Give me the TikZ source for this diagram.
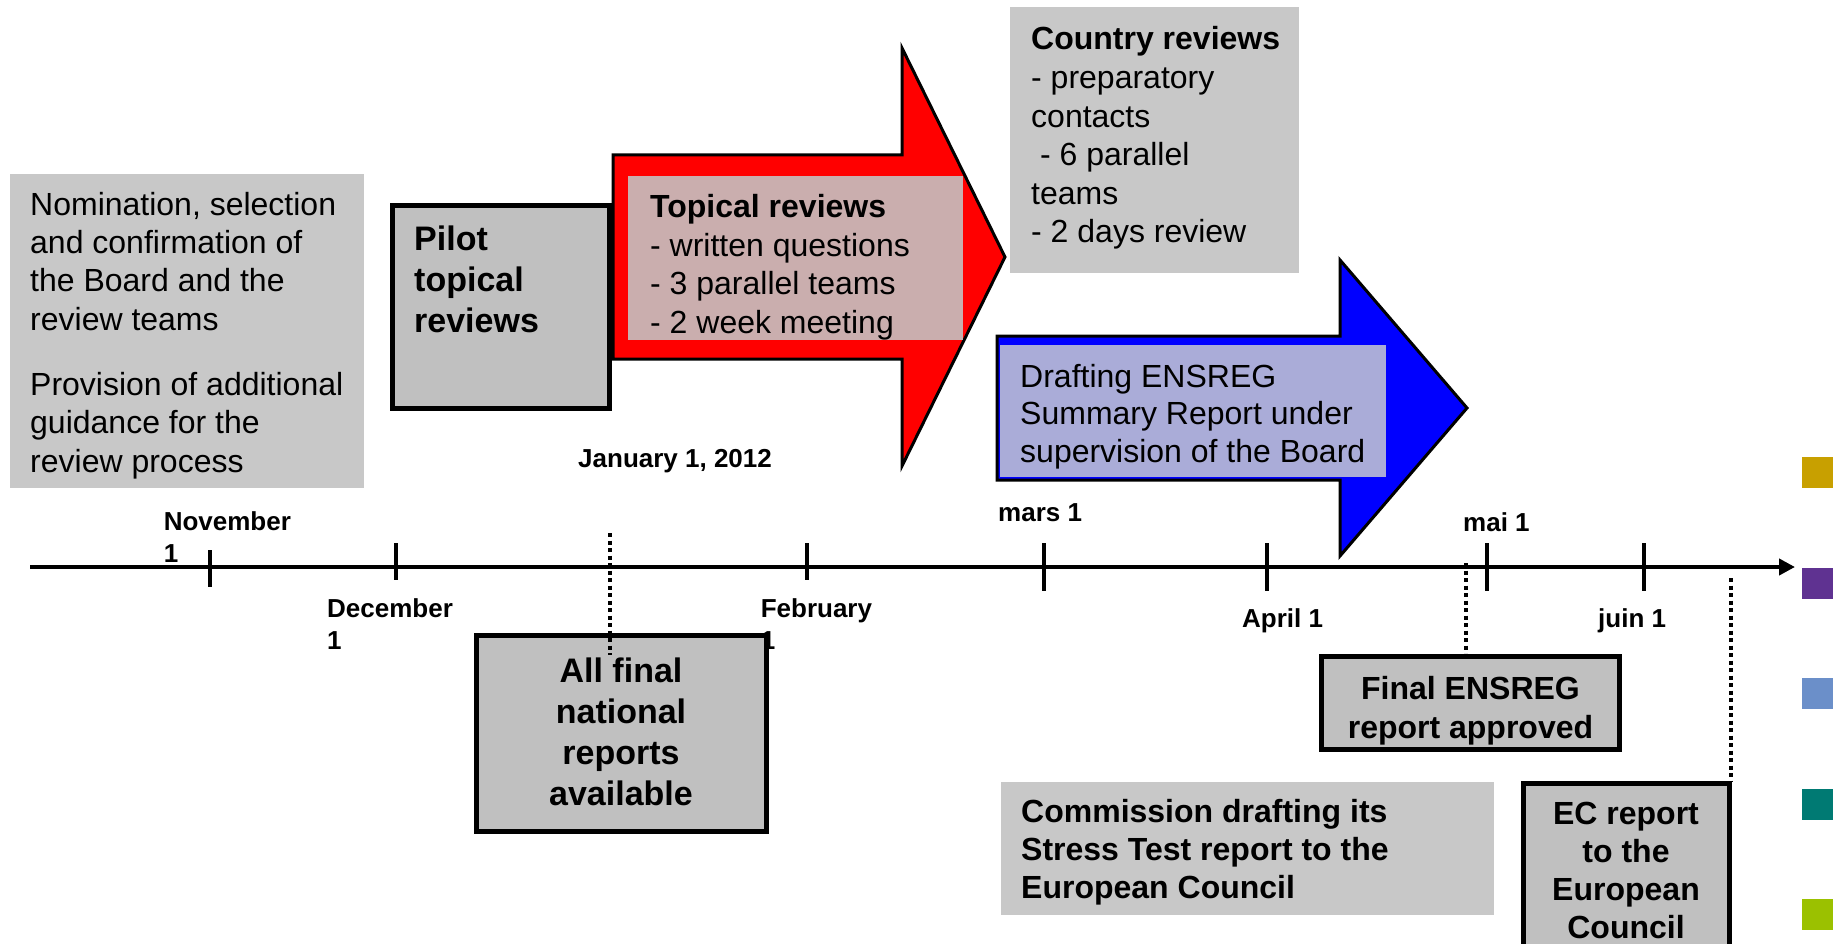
\documentclass[tikz,border=0pt]{standalone}
\usepackage{fontspec}
\setmainfont{Liberation Sans}
\usetikzlibrary{arrows.meta}
\definecolor{boxgray}{RGB}{192,192,192}
\definecolor{lightbox}{RGB}{200,200,200}
\definecolor{pinkgray}{RGB}{202,174,174}
\definecolor{bluegray}{RGB}{170,172,216}
\definecolor{sqgold}{RGB}{200,160,0}
\definecolor{sqpurple}{RGB}{95,50,145}
\definecolor{sqblue}{RGB}{107,143,201}
\definecolor{sqteal}{RGB}{0,122,115}
\definecolor{sqgreen}{RGB}{155,193,0}
\newcommand{\regfont}{\fontsize{32}{38.5}\selectfont}
\newcommand{\bigbold}{\fontsize{34}{41}\selectfont\bfseries}
\newcommand{\monthfont}{\fontsize{26}{32}\selectfont\bfseries}
\tikzset{
  txt/.style={inner sep=0pt, anchor=base west, font=\regfont},
  ctxt/.style={inner sep=0pt, anchor=base, font=\regfont\bfseries},
  month/.style={inner sep=0pt, anchor=base west, font=\monthfont},
  solidbox/.style={draw=black, line width=5pt, fill=boxgray},
  flatbox/.style={fill=lightbox},
  bigarrow/.style={draw=black, line width=3pt, line join=miter},
  tick/.style={line width=4pt},
  dotline/.style={line width=4pt, dash pattern=on 4pt off 3.5pt},
}
\begin{document}
\begin{tikzpicture}[x=1pt,y=-1pt]
\useasboundingbox (0,0) rectangle (1839,944);
\clip (0,0) rectangle (1839,944);
\fill[white] (0,0) rectangle (1839,944);

% left grey block
\fill[lightbox] (10,174) rectangle (364,488);
\node[txt] (nom) at (30,215) {\begin{tabular}[t]{@{}l@{}}Nomination, selection\\and confirmation of\\the Board and the\\review teams\end{tabular}};
\node[txt] (prov) at (30,395) {\begin{tabular}[t]{@{}l@{}}Provision of additional\\guidance for the\\review process\end{tabular}};

% pilot box
\draw[solidbox] (392,205.5) rectangle (609.5,408);
\node[txt, font=\bigbold] (pilot) at (414,251) {\begin{tabular}[t]{@{}l@{}}Pilot\\topical\\reviews\end{tabular}};

% red arrow
\draw[bigarrow, fill=red] (613,155) -- (902,155) -- (902,48) -- (1005,257) -- (902,466) -- (902,359) -- (613,359) -- cycle;
\fill[pinkgray] (628,176) rectangle (963,340);
\node[txt] (topical) at (650,218) {\begin{tabular}[t]{@{}l@{}}\textbf{Topical reviews}\\- written questions\\- 3 parallel teams\\- 2 week meeting\end{tabular}};

% country reviews
\fill[lightbox] (1010,7) rectangle (1299,273);
\node[txt, font=\fontsize{32}{38.6}\selectfont] (country) at (1031,50) {\begin{tabular}[t]{@{}l@{}}\textbf{Country reviews}\\- preparatory\\contacts\\\ - 6 parallel\\teams\\- 2 days review\end{tabular}};

% blue arrow
\draw[bigarrow, fill=blue] (997,336) -- (1340,336) -- (1340,260) -- (1467,408) -- (1340,556) -- (1340,480) -- (997,480) -- cycle;
\fill[bluegray] (1000,345) rectangle (1386,477);
\node[txt, font=\fontsize{32}{37.5}\selectfont] (drafting) at (1020,387) {\begin{tabular}[t]{@{}l@{}}Drafting ENSREG\\Summary Report under\\supervision of the Board\end{tabular}};

% timeline
\coordinate (tlstart) at (30,567);
\coordinate (tlend) at (1795,567);
\draw[line width=4pt, -{Triangle[length=16pt,width=16pt]}] (tlstart) -- (tlend);
\draw[tick] (209.5,550) -- (209.5,587);
\draw[tick] (395.5,543) -- (395.5,580);
\draw[tick] (807,543) -- (807,580);
\draw[tick] (1044,543) -- (1044,591);
\draw[tick] (1266.5,543) -- (1266.5,591);
\draw[tick] (1487,543) -- (1487,591);
\draw[tick] (1643.5,543) -- (1643.5,591);

% month labels
\node[month] (nov) at (163.6,530) {\begin{tabular}[t]{@{}l@{}}November\\1\end{tabular}};
\node[month] (dec) at (327,617) {\begin{tabular}[t]{@{}l@{}}December\\1\end{tabular}};
\node[month] (feb) at (760.6,617) {\begin{tabular}[t]{@{}l@{}}February\\1\end{tabular}};
\node[month] (jan) at (578,467) {January 1, 2012};
\node[month] (mar) at (998,521) {mars 1};
\node[month] (apr) at (1242,627) {April 1};
\node[month] (mai) at (1463,531) {mai 1};
\node[month] (juin) at (1598,627) {juin 1};

% all final box
\draw[solidbox] (476,635.5) rectangle (766.5,831.5);
\node[ctxt, font=\bigbold] (allfinal) at (621,682) {\begin{tabular}[t]{@{}c@{}}All final\\national\\reports\\available\end{tabular}};

% final ENSREG box
\draw[solidbox] (1321.5,656.5) rectangle (1619.5,749.5);
\node[ctxt, font=\fontsize{32}{39}\selectfont\bfseries] (final) at (1470.5,699) {\begin{tabular}[t]{@{}c@{}}Final ENSREG\\report approved\end{tabular}};

% commission box
\fill[lightbox] (1001,782) rectangle (1494,915);
\node[txt, font=\fontsize{32}{38}\selectfont\bfseries] (comm) at (1021,822) {\begin{tabular}[t]{@{}l@{}}Commission drafting its\\Stress Test report to the\\European Council\end{tabular}};

% EC box
\draw[solidbox] (1523.5,783.5) rectangle (1729.5,975);
\node[ctxt, font=\fontsize{32}{38}\selectfont\bfseries] (ec) at (1626,824) {\begin{tabular}[t]{@{}c@{}}EC report\\to the\\European\\Council\end{tabular}};

% dotted markers
\coordinate (jantop) at (610,533);
\coordinate (janbot) at (610,655);
\coordinate (maitop) at (1466,563);
\coordinate (maibot) at (1466,653);
\coordinate (ectop) at (1731,578);
\coordinate (ecbot) at (1731,781);
\draw[dotline] (jantop) -- (janbot);
\draw[dotline] (maitop) -- (maibot);
\draw[dotline] (ectop) -- (ecbot);

% colour squares
\fill[sqgold] (1802,457) rectangle ++(31,31);
\fill[sqpurple] (1802,567.5) rectangle ++(31,31);
\fill[sqblue] (1802,678) rectangle ++(31,31);
\fill[sqteal] (1802,788.5) rectangle ++(31,31);
\fill[sqgreen] (1802,899) rectangle ++(31,31);
\end{tikzpicture}
\end{document}
